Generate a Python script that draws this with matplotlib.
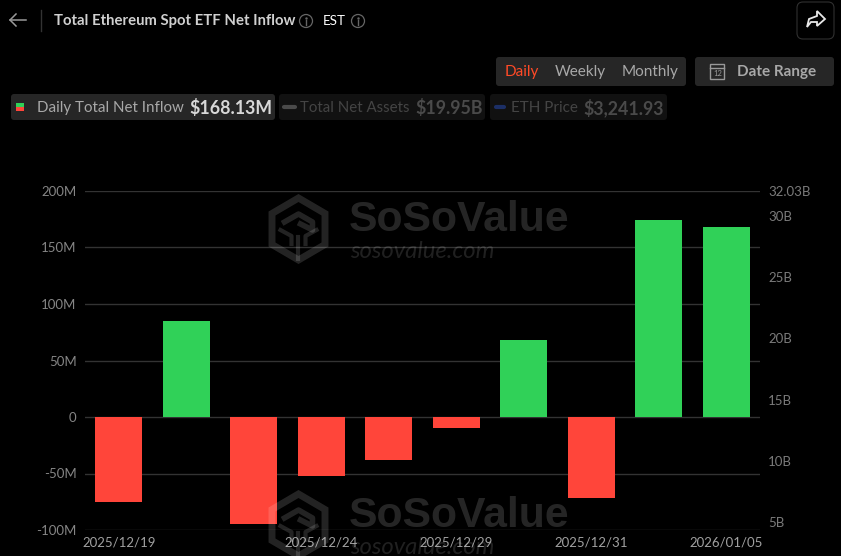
import matplotlib
matplotlib.use("Agg")
import matplotlib.pyplot as plt
from matplotlib.patches import Circle, FancyBboxPatch, Polygon, Rectangle

plt.rcParams["font.family"] = ["Lato", "DejaVu Sans"]

dates = ["2025/12/19", "", "", "2025/12/24", "", "2025/12/29", "", "2025/12/31", "", "2026/01/05"]
net_inflow = [-75.6, 85, -95, -52, -38, -9.5, 68, -71.7, 174, 168.13]
left_ticks = [-100, -50, 0, 50, 100, 150, 200]
left_labels = ["-100M", "-50M", "0", "50M", "100M", "150M", "200M"]
right_ticks = [5, 10, 15, 20, 25, 30, 32.03]
right_labels = ["5B", "10B", "15B", "20B", "25B", "30B", "32.03B"]

W, H = 841, 556
fig = plt.figure(figsize=(W / 100, H / 100), dpi=100, facecolor="#000000")

# plot area, pixel box 85..760 / 191..530
ax = fig.add_axes([85 / W, 1 - 530 / H, 675 / W, 339 / H], facecolor="none")
colors = ["#30d158" if v >= 0 else "#ff453a" for v in net_inflow]
ax.bar(range(len(net_inflow)), net_inflow, width=0.695, color=colors, zorder=3)
ax.set_xlim(-0.5, 9.5)
ax.set_ylim(-100, 200)
ax.set_yticks(left_ticks)
ax.set_yticklabels(left_labels)
ax.set_xticks(range(len(dates)))
ax.set_xticklabels(dates)
ax.tick_params(axis="y", length=0, pad=6, labelsize=9.5, labelcolor="#858585")
ax.tick_params(axis="x", length=0, pad=4.5, labelsize=9.5, labelcolor="#a0a0a0")
ax.grid(axis="y", color="#333333", linewidth=1, zorder=0)
for s in ax.spines.values():
    s.set_visible(False)

ax2 = ax.twinx()
ax2.set_ylim(5 - 8 / 12.246, 32.03)
ax2.set_yticks(right_ticks)
ax2.set_yticklabels(right_labels)
ax2.tick_params(axis="y", length=0, pad=6, labelsize=9.5, labelcolor="#7a7a7a")
for s in ax2.spines.values():
    s.set_visible(False)

# overlay in pixel coords for the page chrome
ov = fig.add_axes([0, 0, 1, 1], facecolor="none")
ov.set_xlim(0, W)
ov.set_ylim(H, 0)
ov.axis("off")


def box(x0, y0, x1, y1, fc, ec="none", r=3):
    ov.add_patch(FancyBboxPatch((x0 + r, y0 + r), x1 - x0 - 2 * r, y1 - y0 - 2 * r,
                                boxstyle=f"round,pad={r},rounding_size={r}", fc=fc, ec=ec, lw=0.8))


def watermark(dy):
    cx, cy = 298.5, 229 + dy
    hexa = [(cx, cy - 31), (cx + 26.5, cy - 15.5), (cx + 26.5, cy + 15.5), (cx, cy + 31),
            (cx - 26.5, cy + 15.5), (cx - 26.5, cy - 15.5)]
    ov.add_patch(Polygon(hexa, closed=True, fc="none", ec="#ffffff", alpha=0.14, lw=5))
    ov.plot([cx - 14, cx, cx + 14, cx + 14, cx + 2], [cy - 7, cy - 15, cy - 7, cy + 1, cy - 5],
            color="#ffffff", alpha=0.14, lw=4)
    ov.plot([cx - 18, cx - 7, cx - 7], [cy + 1, cy + 7, cy + 15], color="#ffffff", alpha=0.14, lw=3)
    ov.plot([cx + 18, cx + 7, cx + 7], [cy + 1, cy + 7, cy + 15], color="#ffffff", alpha=0.14, lw=3)
    ov.plot([cx, cx], [cy + 8, cy + 30], color="#ffffff", alpha=0.14, lw=3)
    ov.text(349, 220 + dy, "SoSoValue", fontsize=30.8, fontweight="bold", family="Liberation Sans",
            color="#ffffff", alpha=0.15, va="center", ha="left", clip_on=True)
    ov.text(350, 251 + dy, "sosovalue.com", fontsize=17.2, style="italic",
            color="#ffffff", alpha=0.13, va="center", ha="left", clip_on=True)


watermark(0)
watermark(296)

# header
ov.plot([10, 26], [20, 20], color="#999999", lw=1.1)
ov.plot([16, 10, 16], [14, 20, 26], color="#999999", lw=1.1)
ov.plot([41.5, 41.5], [10, 31], color="#333333", lw=1)
ov.text(54, 21, "Total Ethereum Spot ETF Net Inflow", fontsize=10.7, fontweight="bold",
        color="#d0d0d0", va="center")
ov.text(323, 21, "EST", fontsize=9.6, color="#ffffff", va="center")
for cx in (306, 358):
    ov.add_patch(Circle((cx, 21), 6.5, fc="none", ec="#666666", lw=0.9))
    ov.plot([cx, cx], [20, 25], color="#666666", lw=1)
    ov.plot([cx], [17.5], ".", color="#666666", ms=1.5)

# share button
box(797, 2, 834, 39, "#000000", "#303030", r=6)
ov.add_patch(Polygon([(807, 27), (809, 19), (817, 16), (817, 11), (825, 19), (817, 26), (817, 22), (811, 22)],
                     closed=True, fc="none", ec="#e8e8e8", lw=1.3))

# period buttons
box(496, 57, 686, 86, "#262626")
ov.text(505, 72, "Daily", fontsize=11, color="#ff4a26", va="center")
ov.text(555, 72, "Weekly", fontsize=11, color="#a8a8a8", va="center")
ov.text(622, 72, "Monthly", fontsize=11, color="#a8a8a8", va="center")
box(695, 57, 834, 86, "#262626")
ov.add_patch(Rectangle((710.5, 64), 14, 14.5, fc="none", ec="#999999", lw=1))
ov.plot([710.5, 724.5], [67.5, 67.5], color="#999999", lw=1)
ov.text(717.5, 73.5, "12", fontsize=5.5, color="#999999", va="center", ha="center")
ov.text(737, 72, "Date Range", fontsize=11, fontweight="bold", color="#a8a8a8", va="center")

# legend row
box(11, 94, 275, 120, "#262626")
ov.add_patch(Rectangle((16, 103), 8, 4, fc="#30d158", ec="none"))
ov.add_patch(Rectangle((16, 107), 8, 4, fc="#ff453a", ec="none"))
ov.text(37, 108, "Daily Total Net Inflow", fontsize=10.9, color="#a8a8a8", va="center")
ov.text(189, 108, "$168.13M", fontsize=12.8, fontweight="bold", color="#d8d8d8", va="center")

box(279, 94, 485, 120, "#111111")
ov.plot([284, 295], [107, 107], color="#4a4a4a", lw=3, solid_capstyle="round")
ov.text(300, 108, "Total Net Assets", fontsize=10.8, color="#444444", va="center")
ov.text(415, 108, "$19.95B", fontsize=12.8, fontweight="bold", color="#4a4a4a", va="center")

box(490, 94, 667, 120, "#111111")
ov.plot([496, 504], [107, 107], color="#1c2f66", lw=3, solid_capstyle="round")
ov.text(511, 108, "ETH Price", fontsize=11, color="#444444", va="center")
ov.text(583, 108, "$3,241.93", fontsize=12.8, fontweight="bold", color="#4a4a4a", va="center")

fig.savefig("out.png", dpi=100, facecolor=fig.get_facecolor())
